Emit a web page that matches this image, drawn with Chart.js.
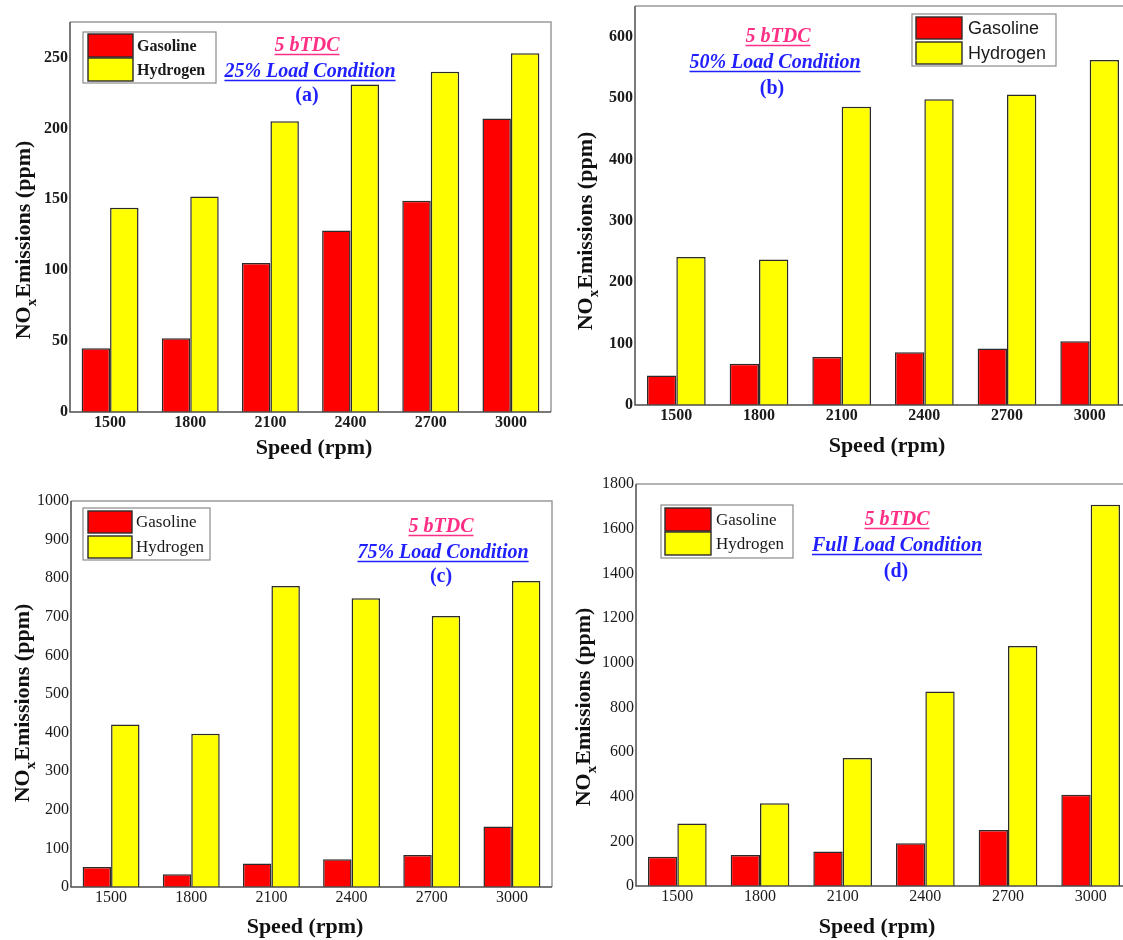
<!DOCTYPE html>
<html>
<head>
<meta charset="utf-8">
<title>NOx Emissions vs Speed</title>
<script src="https://cdn.jsdelivr.net/npm/chart.js@4.4.1/dist/chart.umd.min.js"></script>
<style>
  html, body { margin: 0; padding: 0; background: #ffffff; overflow: hidden; }
  #page { position: relative; width: 1123px; height: 940px; overflow: hidden; background: #ffffff; }
  #page canvas { position: absolute; }
</style>
</head>
<body>
<div id="page"></div>
<script>
// Engine speeds (rpm)
const categories = ['1500', '1800', '2100', '2400', '2700', '3000'];

// NOx emissions (ppm), 5 bTDC ignition timing
const gasoline25 = [45, 52, 105, 128, 149, 207];
const hydrogen25 = [144, 152, 205, 231, 240, 253];

const gasoline50 = [48, 67, 78, 86, 92, 104];
const hydrogen50 = [241, 237, 486, 498, 506, 562];

const gasoline75 = [52, 33, 61, 72, 83, 157];
const hydrogen75 = [421, 397, 780, 748, 702, 793];

const gasolineFull = [131, 139, 154, 191, 251, 409];
const hydrogenFull = [280, 370, 573, 871, 1075, 1707];

// Value-axis ranges: [max, step]
const axis25 = [275, 50];
const axis50 = [650, 100];
const axis75 = [1000, 100];
const axisFull = [1800, 200];

const seriesNames = ['Gasoline', 'Hydrogen'];
const timingLabel = '5 bTDC';
const loadLabels = ['25% Load Condition', '50% Load Condition', '75% Load Condition', 'Full Load Condition'];
const panelTags = ['(a)', '(b)', '(c)', '(d)'];
const xTitle = 'Speed (rpm)';

const SERIF = '"Liberation Serif", "Times New Roman", serif';
const SANS = '"Liberation Sans", Arial, sans-serif';
const RED = '#ff0000';
const YELLOW = '#ffff00';
const PINK = '#ff2f86';
const BLUE = '#1f1fff';

const panels = [
  {
    gas: gasoline25, hyd: hydrogen25, axis: axis25, load: loadLabels[0], tag: panelTags[0],
    pos: { left: 0, top: 0, w: 560, h: 470 },
    area: { left: 70, top: 22, right: 551, bottom: 412 },
    tickFont: { family: SERIF, size: 16, weight: 'bold' },
    legend: { x: 83, y: 32, w: 133, h: 51, sx: 88, sw: 45, ry: 34, yy: 58, sh: 23, tx: 137,
              font: 'bold 16px ' + SERIF },
    notes: { x: [307, 310, 307], y: [51, 77, 101] },
    xt: [314, 448], yt: [24, 240]
  },
  {
    gas: gasoline50, hyd: hydrogen50, axis: axis50, load: loadLabels[1], tag: panelTags[1],
    pos: { left: 560, top: 0, w: 580, h: 470 },
    area: { left: 75, top: 6, right: 571, bottom: 405 },
    tickFont: { family: SERIF, size: 16, weight: 'bold' },
    legend: { x: 352, y: 14, w: 144, h: 52, sx: 356, sw: 46, ry: 17, yy: 42, sh: 22, tx: 408,
              font: '18px ' + SANS },
    notes: { x: [218, 215, 212], y: [42, 68, 94] },
    xt: [327, 446], yt: [26, 231]
  },
  {
    gas: gasoline75, hyd: hydrogen75, axis: axis75, load: loadLabels[2], tag: panelTags[2],
    pos: { left: 0, top: 470, w: 560, h: 470 },
    area: { left: 71, top: 31, right: 552, bottom: 417 },
    tickFont: { family: SERIF, size: 16, weight: 'normal' },
    legend: { x: 83, y: 38, w: 127, h: 52, sx: 88, sw: 44, ry: 41, yy: 66, sh: 22, tx: 136,
              font: '17px ' + SERIF },
    notes: { x: [441, 443, 441], y: [62, 88, 112] },
    xt: [305, 457], yt: [23, 233]
  },
  {
    gas: gasolineFull, hyd: hydrogenFull, axis: axisFull, load: loadLabels[3], tag: panelTags[3],
    pos: { left: 560, top: 470, w: 580, h: 470 },
    area: { left: 76, top: 14, right: 572, bottom: 416 },
    tickFont: { family: SERIF, size: 16, weight: 'normal' },
    legend: { x: 101, y: 35, w: 132, h: 53, sx: 105, sw: 46, ry: 38, yy: 62, sh: 23, tx: 156,
              font: '17px ' + SERIF },
    notes: { x: [337, 337, 336], y: [55, 81, 107] },
    xt: [317, 457], yt: [24, 237]
  }
];

// Text with an underline of the same colour, centred at x on baseline y
function underlinedText(ctx, text, x, y, font, color) {
  ctx.font = font;
  ctx.fillStyle = color;
  ctx.textAlign = 'center';
  ctx.textBaseline = 'alphabetic';
  ctx.fillText(text, x, y);
  const w = ctx.measureText(text).width;
  ctx.strokeStyle = color;
  ctx.lineWidth = 1.5;
  ctx.beginPath();
  ctx.moveTo(x - w / 2, y + 3.5);
  ctx.lineTo(x + w / 2, y + 3.5);
  ctx.stroke();
}

// Rotated "NOx Emissions (ppm)" title with a subscript x
function drawYTitle(ctx, cx, cy) {
  const big = 'bold 22px ' + SERIF;
  const small = 'bold 15px ' + SERIF;
  ctx.save();
  ctx.translate(cx, cy);
  ctx.rotate(-Math.PI / 2);
  ctx.fillStyle = '#111111';
  ctx.textBaseline = 'middle';
  ctx.textAlign = 'left';
  ctx.font = big;
  const w1 = ctx.measureText('NO').width;
  const w3 = ctx.measureText('Emissions (ppm)').width;
  ctx.font = small;
  const w2 = ctx.measureText('x').width + 1;
  let x = -(w1 + w2 + w3) / 2;
  ctx.font = big;
  ctx.fillText('NO', x, 0);
  x += w1;
  ctx.font = small;
  ctx.fillText('x', x, 8);
  x += w2;
  ctx.font = big;
  ctx.fillText('Emissions (ppm)', x, 0);
  ctx.restore();
}

function decorPlugin(p) {
  return {
    id: 'panelDecor',
    afterDatasetsDraw(chart) {
      const ctx = chart.ctx;
      const a = chart.chartArea;
      ctx.save();
      // plot frame
      ctx.lineWidth = 1.5;
      ctx.strokeStyle = '#9a9a9a';
      ctx.beginPath();
      ctx.moveTo(a.left, a.top);
      ctx.lineTo(a.right, a.top);
      ctx.lineTo(a.right, a.bottom);
      ctx.stroke();
      ctx.strokeStyle = '#4d4d4d';
      ctx.beginPath();
      ctx.moveTo(a.left, a.top);
      ctx.lineTo(a.left, a.bottom);
      ctx.lineTo(a.right, a.bottom);
      ctx.stroke();

      // legend box
      const L = p.legend;
      ctx.fillStyle = '#ffffff';
      ctx.fillRect(L.x, L.y, L.w, L.h);
      ctx.lineWidth = 1.2;
      ctx.strokeStyle = '#8a8a8a';
      ctx.strokeRect(L.x, L.y, L.w, L.h);
      const ds = chart.data.datasets;
      const rows = [L.ry, L.yy];
      rows.forEach((ry, i) => {
        ctx.fillStyle = ds[i].backgroundColor;
        ctx.fillRect(L.sx, ry, L.sw, L.sh);
        ctx.lineWidth = 1.4;
        ctx.strokeStyle = '#2b2b2b';
        ctx.strokeRect(L.sx, ry, L.sw, L.sh);
        ctx.font = L.font;
        ctx.fillStyle = '#1a1a1a';
        ctx.textAlign = 'left';
        ctx.textBaseline = 'middle';
        ctx.fillText(ds[i].label, L.tx, ry + L.sh / 2 + 1);
      });

      // condition notes
      const N = p.notes;
      underlinedText(ctx, timingLabel, N.x[0], N.y[0], 'italic bold 20px ' + SERIF, PINK);
      underlinedText(ctx, p.load, N.x[1], N.y[1], 'italic bold 20px ' + SERIF, BLUE);
      ctx.font = 'bold 20px ' + SERIF;
      ctx.fillStyle = BLUE;
      ctx.textAlign = 'center';
      ctx.textBaseline = 'alphabetic';
      ctx.fillText(p.tag, N.x[2], N.y[2]);

      // axis titles
      ctx.font = 'bold 22px ' + SERIF;
      ctx.fillStyle = '#111111';
      ctx.textAlign = 'center';
      ctx.textBaseline = 'middle';
      ctx.fillText(xTitle, p.xt[0], p.xt[1]);
      drawYTitle(ctx, p.yt[0], p.yt[1]);
      ctx.restore();
    }
  };
}

const page = document.getElementById('page');

panels.forEach((p) => {
  const canvas = document.createElement('canvas');
  canvas.width = p.pos.w;
  canvas.height = p.pos.h;
  canvas.style.left = p.pos.left + 'px';
  canvas.style.top = p.pos.top + 'px';
  canvas.style.width = p.pos.w + 'px';
  canvas.style.height = p.pos.h + 'px';
  page.appendChild(canvas);

  const barStyle = { borderColor: '#2b2b2b', borderWidth: 1.5, categoryPercentage: 0.71, barPercentage: 1.0 };

  new Chart(canvas, {
    type: 'bar',
    data: {
      labels: categories,
      datasets: [
        Object.assign({ label: seriesNames[0], data: p.gas, backgroundColor: RED }, barStyle),
        Object.assign({ label: seriesNames[1], data: p.hyd, backgroundColor: YELLOW }, barStyle)
      ]
    },
    options: {
      responsive: false,
      animation: false,
      devicePixelRatio: 1,
      layout: { padding: { left: 0, top: p.area.top, right: p.pos.w - p.area.right, bottom: 0 } },
      plugins: { legend: { display: false }, tooltip: { enabled: false } },
      scales: {
        x: {
          grid: { display: false, drawTicks: false },
          border: { display: false },
          ticks: { font: p.tickFont, color: '#1a1a1a', padding: 1, maxRotation: 0, autoSkip: false },
          afterFit(scale) { scale.height = p.pos.h - p.area.bottom; }
        },
        y: {
          min: 0,
          max: p.axis[0],
          grid: { display: false, drawTicks: false },
          border: { display: false },
          ticks: {
            stepSize: p.axis[1],
            includeBounds: false,
            font: p.tickFont,
            color: '#1a1a1a',
            padding: 2,
            callback: (v) => String(v)
          },
          afterFit(scale) {
            scale.width = p.area.left;
            scale.paddingTop = 0;
            scale.paddingBottom = 0;
          }
        }
      }
    },
    plugins: [decorPlugin(p)]
  });
});
</script>
</body>
</html>
